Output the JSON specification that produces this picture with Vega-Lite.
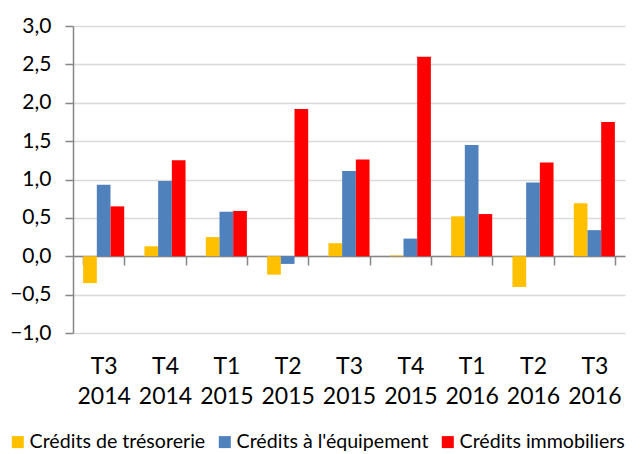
{
  "$schema": "https://vega.github.io/schema/vega-lite/v6.json",
  "width": 552,
  "height": 307,
  "autosize": {"type": "none"},
  "padding": {"left": 73, "top": 26, "right": 16, "bottom": 121},
  "background": "white",
  "config": {
    "font": "Lato",
    "view": {"stroke": null}
  },
  "data": {
    "values": [
      {"q": "T3 2014", "s": "Crédits de trésorerie", "v": -0.35},
      {"q": "T3 2014", "s": "Crédits à l'équipement", "v": 0.93},
      {"q": "T3 2014", "s": "Crédits immobiliers", "v": 0.65},
      {"q": "T4 2014", "s": "Crédits de trésorerie", "v": 0.13},
      {"q": "T4 2014", "s": "Crédits à l'équipement", "v": 0.98},
      {"q": "T4 2014", "s": "Crédits immobiliers", "v": 1.25},
      {"q": "T1 2015", "s": "Crédits de trésorerie", "v": 0.25},
      {"q": "T1 2015", "s": "Crédits à l'équipement", "v": 0.58},
      {"q": "T1 2015", "s": "Crédits immobiliers", "v": 0.59},
      {"q": "T2 2015", "s": "Crédits de trésorerie", "v": -0.24},
      {"q": "T2 2015", "s": "Crédits à l'équipement", "v": -0.10},
      {"q": "T2 2015", "s": "Crédits immobiliers", "v": 1.92},
      {"q": "T3 2015", "s": "Crédits de trésorerie", "v": 0.17},
      {"q": "T3 2015", "s": "Crédits à l'équipement", "v": 1.11},
      {"q": "T3 2015", "s": "Crédits immobiliers", "v": 1.26},
      {"q": "T4 2015", "s": "Crédits de trésorerie", "v": 0.01},
      {"q": "T4 2015", "s": "Crédits à l'équipement", "v": 0.23},
      {"q": "T4 2015", "s": "Crédits immobiliers", "v": 2.60},
      {"q": "T1 2016", "s": "Crédits de trésorerie", "v": 0.52},
      {"q": "T1 2016", "s": "Crédits à l'équipement", "v": 1.45},
      {"q": "T1 2016", "s": "Crédits immobiliers", "v": 0.55},
      {"q": "T2 2016", "s": "Crédits de trésorerie", "v": -0.40},
      {"q": "T2 2016", "s": "Crédits à l'équipement", "v": 0.96},
      {"q": "T2 2016", "s": "Crédits immobiliers", "v": 1.22},
      {"q": "T3 2016", "s": "Crédits de trésorerie", "v": 0.69},
      {"q": "T3 2016", "s": "Crédits à l'équipement", "v": 0.34},
      {"q": "T3 2016", "s": "Crédits immobiliers", "v": 1.75}
    ]
  },
  "mark": {"type": "bar"},
  "encoding": {
    "x": {
      "field": "q",
      "type": "nominal",
      "sort": null,
      "scale": {"paddingInner": 0.33, "paddingOuter": 0.165},
      "axis": {
        "title": null,
        "offset": -77,
        "labelAngle": 0,
        "labelExpr": "split(datum.label, ' ')",
        "labelFontSize": 23,
        "labelLineHeight": 30,
        "labelBaseline": "middle",
        "labelPadding": 101,
        "labelColor": "#000000",
        "tickBand": "extent",
        "tickSize": 9,
        "tickColor": "#868686",
        "tickWidth": 1.5,
        "domainColor": "#868686",
        "domainWidth": 1.5
      }
    },
    "xOffset": {
      "field": "s",
      "type": "nominal",
      "sort": ["Crédits de trésorerie", "Crédits à l'équipement", "Crédits immobiliers"],
      "scale": {"paddingInner": 0, "paddingOuter": 0}
    },
    "y": {
      "field": "v",
      "type": "quantitative",
      "scale": {"domain": [-1, 3], "nice": false, "zero": false},
      "axis": {
        "title": null,
        "values": [-1, -0.5, 0, 0.5, 1, 1.5, 2, 2.5, 3],
        "labelExpr": "replace(format(datum.value, '.1f'), '.', ',')",
        "labelFontSize": 21,
        "labelColor": "#000000",
        "labelPadding": 14,
        "tickSize": 8,
        "tickColor": "#868686",
        "tickWidth": 1.5,
        "domainColor": "#868686",
        "domainWidth": 1.5,
        "gridColor": "#d9d9d9",
        "gridWidth": 1.5
      }
    },
    "color": {
      "field": "s",
      "type": "nominal",
      "sort": ["Crédits de trésorerie", "Crédits à l'équipement", "Crédits immobiliers"],
      "scale": {
        "domain": ["Crédits de trésorerie", "Crédits à l'équipement", "Crédits immobiliers"],
        "range": ["#FFC000", "#4F81BD", "#FF0000"]
      },
      "legend": {
        "title": null,
        "orient": "none",
        "direction": "horizontal",
        "legendX": -65,
        "legendY": 406,
        "symbolType": "square",
        "symbolSize": 144,
        "symbolStrokeWidth": 0,
        "labelFontSize": 19.6,
        "labelColor": "#000000",
        "labelOffset": 2,
        "columnPadding": 9,
        "labelLimit": 400
      }
    }
  }
}
